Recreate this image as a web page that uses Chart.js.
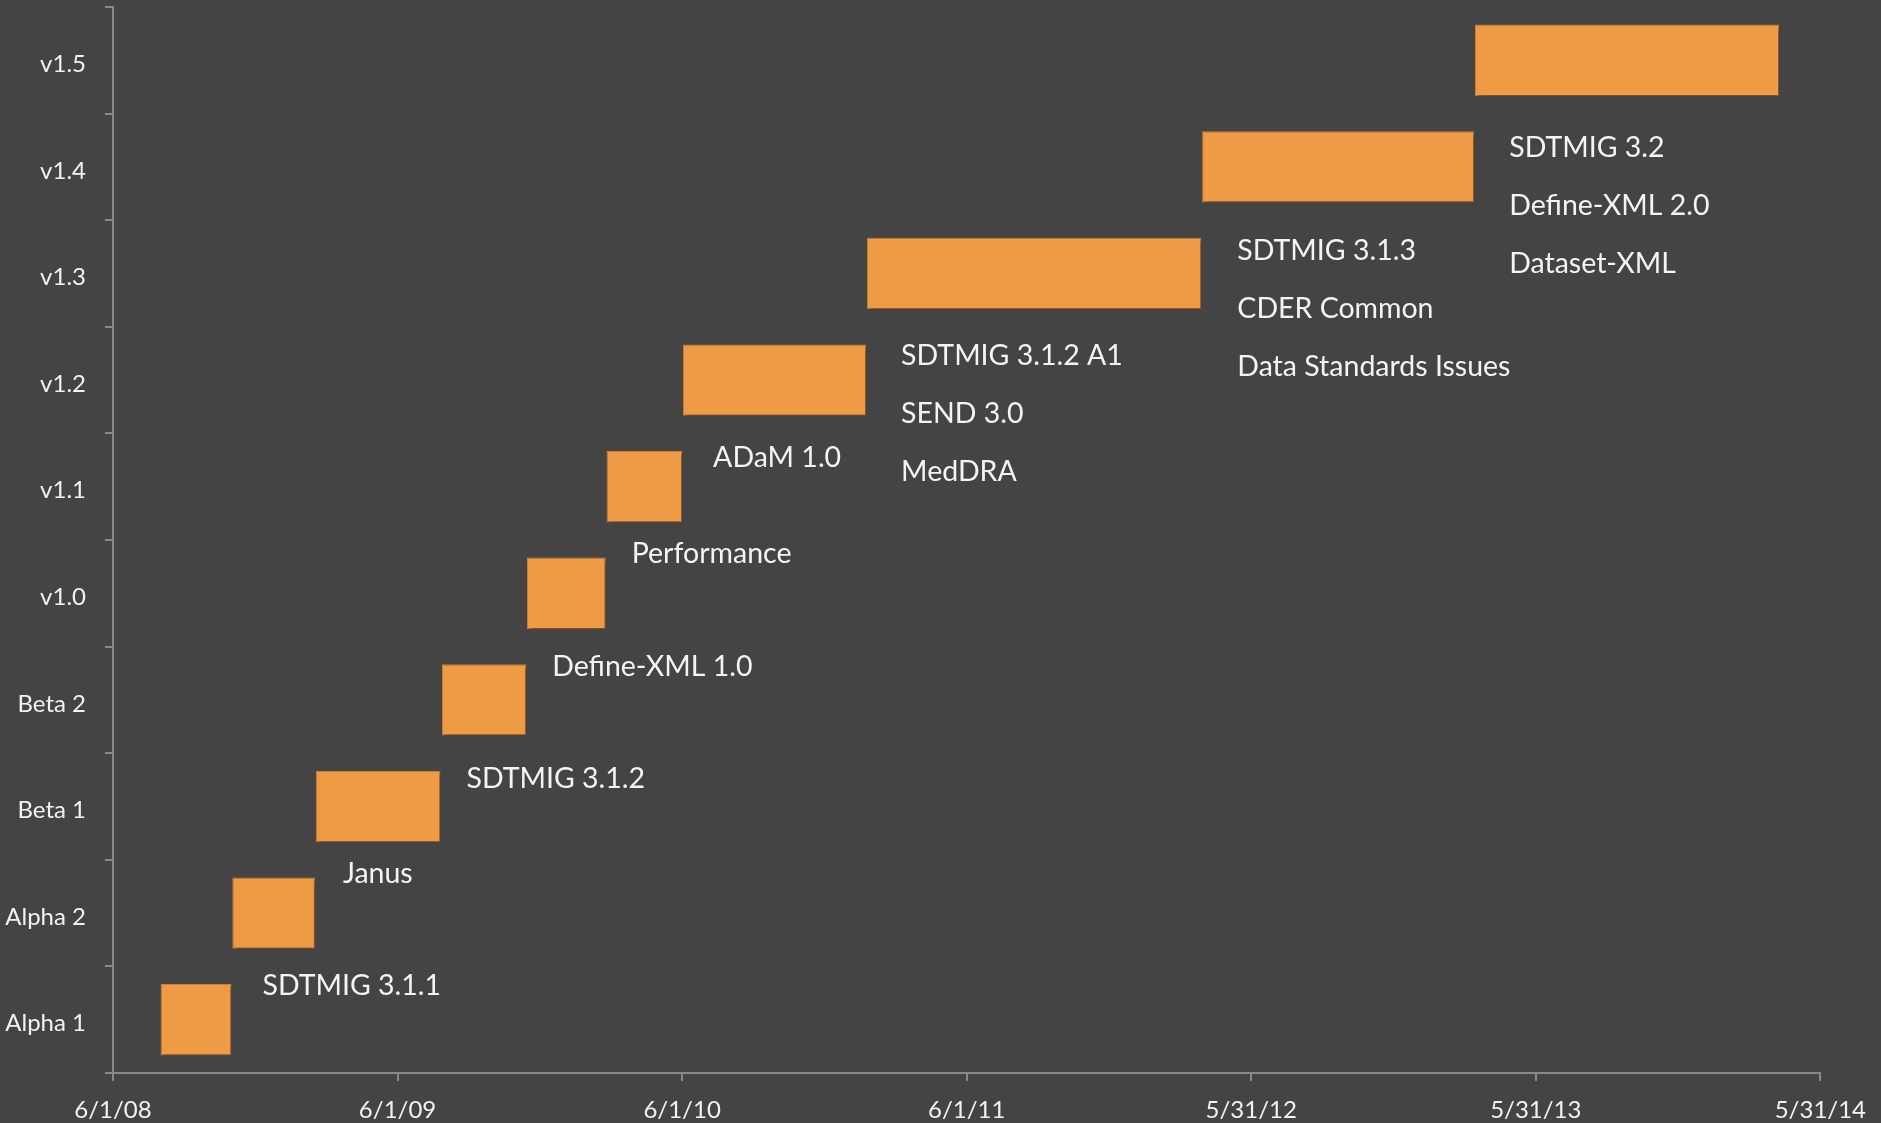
<!DOCTYPE html>
<html>
<head>
<meta charset="utf-8">
<script src="https://cdn.jsdelivr.net/npm/chart.js@4.4.1/dist/chart.umd.min.js"></script>
<style>
  html, body { margin: 0; padding: 0; background: #444444; }
  #wrap { width: 1881px; height: 1123px; }
</style>
</head>
<body>
<div id="wrap"><canvas id="timeline"></canvas></div>
<script>
// releases, bottom to top
const releases = ['Alpha 1', 'Alpha 2', 'Beta 1', 'Beta 2', 'v1.0', 'v1.1', 'v1.2', 'v1.3', 'v1.4', 'v1.5'];
const startDates = ['2008-08-01', '2008-11-01', '2009-02-16', '2009-07-28', '2009-11-14',
                    '2010-02-24', '2010-06-02', '2011-01-24', '2012-03-29', '2013-03-14'];
const endDates = ['2008-10-31', '2009-02-15', '2009-07-26', '2009-11-13', '2010-02-23',
                  '2010-06-01', '2011-01-23', '2012-03-28', '2013-03-13', '2014-04-08'];
const notes = [
  ['SDTMIG 3.1.1'],
  ['Janus'],
  ['SDTMIG 3.1.2'],
  ['Define-XML 1.0'],
  ['Performance'],
  ['ADaM 1.0'],
  ['SDTMIG 3.1.2 A1', 'SEND 3.0', 'MedDRA'],
  ['SDTMIG 3.1.3', 'CDER Common', 'Data Standards Issues'],
  ['SDTMIG 3.2', 'Define-XML 2.0', 'Dataset-XML'],
  []
];
const axisStart = '2008-06-01';
const axisEnd = '2014-05-31';

// note placement relative to the bar end (px)
const noteOffsets = [[31, -34], [28, -39], [26, -28], [26, -33], [26, -39],
                     [31, -29], [35, -24], [36, -23], [35, -19], [0, 0]];
const noteGap = 58;

const DAY = 86400000;
const toDay = s => {
  const [y, m, d] = s.split('-').map(Number);
  return Date.UTC(y, m - 1, d) / DAY;
};
const fmtDay = v => {
  const d = new Date(v * DAY);
  return (d.getUTCMonth() + 1) + '/' + d.getUTCDate() + '/' + String(d.getUTCFullYear()).slice(2);
};

const spans = startDates.map((s, i) => [toDay(s), toDay(endDates[i])]);

const barShadow = {
  id: 'barShadow',
  beforeDatasetsDraw(chart) {
    const ctx = chart.ctx;
    ctx.save();
    ctx.shadowColor = 'rgba(0,0,0,0.45)';
    ctx.shadowBlur = 4;
    ctx.shadowOffsetX = 2;
    ctx.shadowOffsetY = 3;
  },
  afterDatasetsDraw(chart) {
    chart.ctx.restore();
  }
};

const barNotes = {
  id: 'barNotes',
  afterDraw(chart) {
    const ctx = chart.ctx;
    const xs = chart.scales.x;
    const meta = chart.getDatasetMeta(0);
    ctx.save();
    ctx.font = '28.5px Lato';
    ctx.fillStyle = '#f4f4f4';
    ctx.textBaseline = 'middle';
    ctx.textAlign = 'left';
    meta.data.forEach((bar, i) => {
      const [dx, dy] = noteOffsets[i];
      const x = xs.getPixelForValue(spans[i][1]) + dx;
      notes[i].forEach((t, k) => ctx.fillText(t, x, bar.y + dy + k * noteGap));
    });
    ctx.restore();
  }
};

new Chart(document.getElementById('timeline'), {
  type: 'bar',
  data: {
    labels: releases,
    datasets: [{
      data: spans,
      backgroundColor: '#ef9a45',
      borderColor: '#d2843a',
      borderWidth: 1,
      borderSkipped: false,
      barPercentage: 0.67,
      categoryPercentage: 1
    }]
  },
  options: {
    indexAxis: 'y',
    responsive: true,
    maintainAspectRatio: false,
    animation: false,
    layout: { padding: { top: 7, right: 60, left: 0, bottom: 0 } },
    plugins: { legend: { display: false }, tooltip: { enabled: false } },
    scales: {
      x: {
        type: 'linear',
        min: toDay(axisStart),
        max: toDay(axisEnd),
        afterFit: s => { s.height = 50; },
        border: { color: '#888888', width: 2 },
        grid: { drawOnChartArea: false, color: '#888888', lineWidth: 2, tickLength: 8 },
        ticks: {
          stepSize: 365,
          color: '#f2f2f2',
          font: { family: 'Lato', size: 24 },
          padding: 15,
          maxRotation: 0,
          callback: v => fmtDay(v)
        }
      },
      y: {
        reverse: true,
        afterFit: s => { s.width = 113; s.paddingTop = 0; s.paddingBottom = 0; },
        border: { color: '#888888', width: 2 },
        grid: { drawOnChartArea: false, color: '#888888', lineWidth: 2, tickLength: 8, offset: true },
        ticks: {
          color: '#f2f2f2',
          font: { family: 'Lato', size: 24 },
          padding: 19,
          labelOffset: 4
        }
      }
    }
  },
  plugins: [barShadow, barNotes]
});
</script>
</body>
</html>
